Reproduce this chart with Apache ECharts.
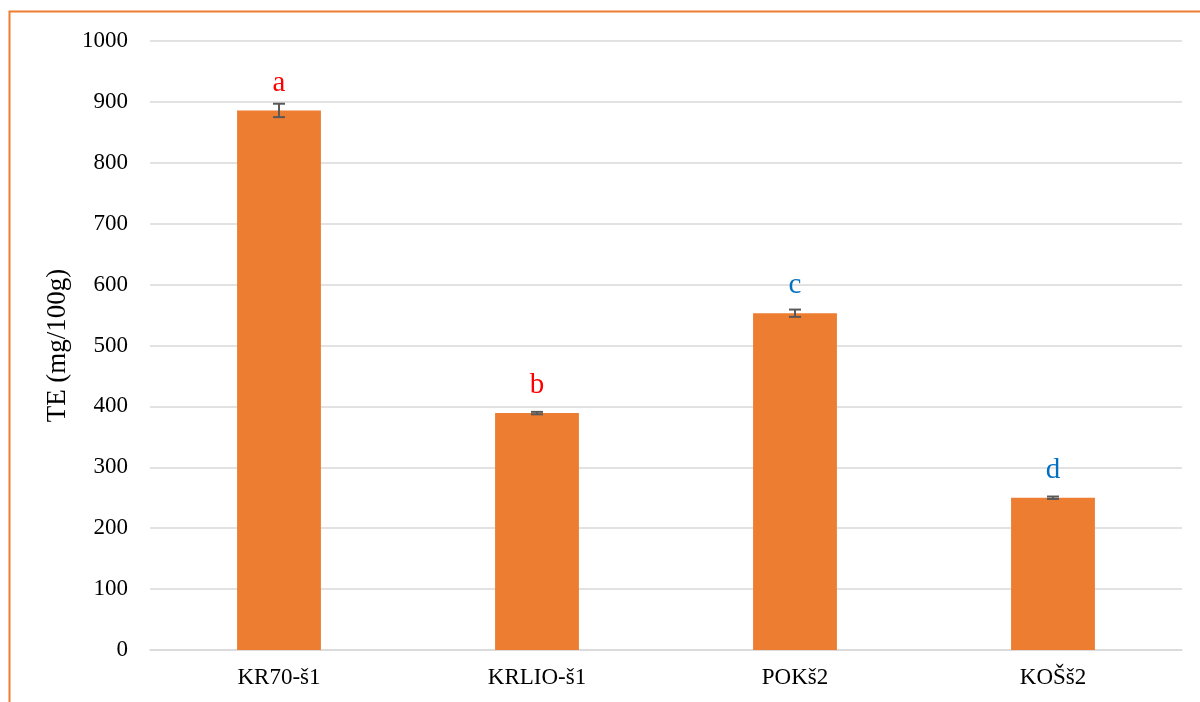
<!DOCTYPE html>
<html><head><meta charset="utf-8">
<script src="https://cdn.jsdelivr.net/npm/echarts@6/dist/echarts.min.js"></script>
<style>html,body{margin:0;padding:0;background:#fff;}#c{width:1200px;height:702px;}</style>
</head><body><div id="c"></div>
<script>
const categories = ['KR70-š1', 'KRLIO-š1', 'POKš2', 'KOŠš2'];
const values = [886, 389, 553, 250];
const errors = [11, 2, 6, 2];
const letters = ['a', 'b', 'c', 'd'];
const yTicks = [0, 100, 200, 300, 400, 500, 600, 700, 800, 900, 1000];

const letterColors = ['#FF0000', '#FF0000', '#0070C0', '#0070C0'];
const font = '"Liberation Serif", "Times New Roman", serif';

const chart = echarts.init(document.getElementById('c'), null, {renderer: 'canvas'});
chart.setOption({
  animation: false,
  backgroundColor: '#fff',
  graphic: [{
    type: 'polyline',
    shape: {points: [[9.5, 710], [9.5, 11.5], [1210, 11.5]]},
    style: {stroke: '#ED7D31', lineWidth: 2, fill: null},
    silent: true
  }],
  grid: {left: 150, right: 18, top: 41, bottom: 52, containLabel: false},
  xAxis: {
    type: 'category',
    data: categories,
    axisTick: {show: false},
    axisLine: {lineStyle: {color: '#D9D9D9', width: 1.5}},
    axisLabel: {color: '#000', fontFamily: font, fontSize: 23, margin: 16}
  },
  yAxis: {
    type: 'value',
    min: yTicks[0], max: yTicks[yTicks.length - 1], interval: 100,
    name: 'TE (mg/100g)',
    nameLocation: 'middle',
    nameGap: 76,
    nameTextStyle: {color: '#000', fontFamily: font, fontSize: 27},
    axisLine: {show: false},
    axisTick: {show: false},
    splitLine: {lineStyle: {color: '#D9D9D9', width: 1.5}},
    axisLabel: {color: '#000', fontFamily: font, fontSize: 23, margin: 22,
      formatter: v => String(v)}
  },
  series: [{
    type: 'bar',
    data: values.map((v, i) => ({
      value: v,
      label: {show: true, position: 'top', distance: 13, formatter: letters[i],
        color: letterColors[i], fontFamily: font, fontSize: 29}
    })),
    barWidth: '32.5%',
    itemStyle: {color: '#ED7D31'},
    z: 2
  }, {
    type: 'custom',
    data: values.map((v, i) => [i, v - errors[i], v + errors[i]]),
    renderItem: function (params, api) {
      const lo = api.coord([api.value(0), api.value(1)]);
      const hi = api.coord([api.value(0), api.value(2)]);
      const x = lo[0], hw = 6;
      const st = {stroke: '#595959', lineWidth: 2};
      return {type: 'group', children: [
        {type: 'line', shape: {x1: x, y1: lo[1], x2: x, y2: hi[1]}, style: st},
        {type: 'line', shape: {x1: x - hw, y1: lo[1], x2: x + hw, y2: lo[1]}, style: st},
        {type: 'line', shape: {x1: x - hw, y1: hi[1], x2: x + hw, y2: hi[1]}, style: st}
      ]};
    },
    z: 3
  }]
});
</script></body></html>
